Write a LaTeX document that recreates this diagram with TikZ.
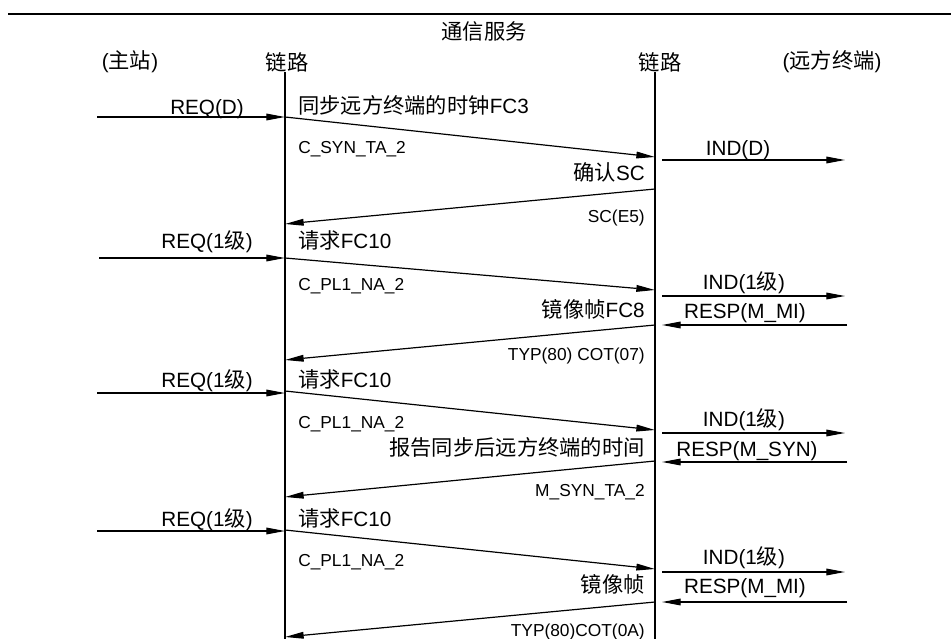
\documentclass[tikz,border=0pt]{standalone}
\usepackage{fontspec}
\setmainfont{Liberation Sans}
\newfontfamily\cjk[Scale=1.03]{Noto Sans CJK SC}
\usetikzlibrary{arrows.meta}
\begin{document}
\begin{tikzpicture}[x=0.75pt,y=-0.75pt,
  lbl/.style={font=\fontsize{15.5}{18}\selectfont, inner sep=0pt},
  sml/.style={font=\fontsize{13}{15}\selectfont, inner sep=0pt},
  msg/.style={line width=0.9pt, -{Triangle[length=14pt,width=5pt]}},
  life/.style={line width=1pt},
  rule/.style={line width=1.2pt}]
\useasboundingbox (0,0) rectangle (951,639);
% header
\coordinate (topL) at (8,14);
\coordinate (topR) at (951,14);
\draw[rule] (topL) -- (topR);
\node[lbl] (svc) at (484,31) {\cjk 通信服务};
\node[lbl] (master) at (130,62) {(\cjk 主站\rm)};
\node[lbl] (link1) at (287,62) {\cjk 链路};
\node[lbl] (link2) at (660,62) {\cjk 链路};
\node[lbl] (remote) at (832,62) {(\cjk 远方终端\rm)};
% lifelines
\coordinate (L0) at (285,72);
\coordinate (L1) at (285,639);
\coordinate (R0) at (655,72);
\coordinate (R1) at (655,639);
\draw[life] (L0) -- (L1);
\draw[life] (R0) -- (R1);

% ---------- row 1 ----------
\coordinate (q1s) at (97,117);  \coordinate (q1e) at (285,117);
\draw[msg] (q1s) -- (q1e);
\node[lbl,anchor=base] (q1l) at (207,114) {REQ(D)};
\coordinate (f1s) at (285,117); \coordinate (f1e) at (655,157);
\draw[msg] (f1s) -- (f1e);
\node[lbl,anchor=base west] (f1t) at (298,113) {\cjk 同步远方终端的时钟\rm FC3};
\node[sml,anchor=base west] (f1c) at (298,153) {C\_SYN\_TA\_2};
\coordinate (i1s) at (662,160); \coordinate (i1e) at (845,160);
\draw[msg] (i1s) -- (i1e);
\node[lbl,anchor=base] (i1l) at (738,155) {IND(D)};
\node[lbl,anchor=base east] (b1t) at (645,180) {\cjk 确认\rm SC};
\coordinate (b1s) at (655,189); \coordinate (b1e) at (285,224);
\draw[msg] (b1s) -- (b1e);
\node[sml,anchor=base east] (b1c) at (645,222) {SC(E5)};

% ---------- row 2 ----------
\coordinate (q2s) at (99,258);  \coordinate (q2e) at (285,258);
\draw[msg] (q2s) -- (q2e);
\node[lbl,anchor=base] (q2l) at (207,248) {REQ(1\cjk 级\rm)};
\coordinate (f2s) at (285,258); \coordinate (f2e) at (655,290);
\draw[msg] (f2s) -- (f2e);
\node[lbl,anchor=base west] (f2t) at (298,248) {\cjk 请求\rm FC10};
\node[sml,anchor=base west] (f2c) at (298,290) {C\_PL1\_NA\_2};
\coordinate (i2s) at (662,296); \coordinate (i2e) at (845,296);
\draw[msg] (i2s) -- (i2e);
\node[lbl,anchor=base] (i2l) at (744,289) {IND(1\cjk 级\rm)};
\node[lbl,anchor=base east] (b2t) at (645,317) {\cjk 镜像帧\rm FC8};
\coordinate (r2s) at (847,325); \coordinate (r2e) at (662,325);
\draw[msg] (r2s) -- (r2e);
\node[lbl,anchor=base] (r2l) at (745,318) {RESP(M\_MI)};
\coordinate (b2s) at (655,325); \coordinate (b2e) at (285,360);
\draw[msg] (b2s) -- (b2e);
\node[sml,anchor=base east] (b2c) at (645,360) {TYP(80) COT(07)};

% ---------- row 3 ----------
\coordinate (q3s) at (97,393);  \coordinate (q3e) at (285,393);
\draw[msg] (q3s) -- (q3e);
\node[lbl,anchor=base] (q3l) at (207,387) {REQ(1\cjk 级\rm)};
\coordinate (f3s) at (285,391); \coordinate (f3e) at (655,430);
\draw[msg] (f3s) -- (f3e);
\node[lbl,anchor=base west] (f3t) at (298,387) {\cjk 请求\rm FC10};
\node[sml,anchor=base west] (f3c) at (298,428) {C\_PL1\_NA\_2};
\coordinate (i3s) at (662,433); \coordinate (i3e) at (845,433);
\draw[msg] (i3s) -- (i3e);
\node[lbl,anchor=base] (i3l) at (744,426) {IND(1\cjk 级\rm)};
\node[lbl,anchor=base east] (b3t) at (645,455) {\cjk 报告同步后远方终端的时间};
\coordinate (r3s) at (847,462); \coordinate (r3e) at (662,462);
\draw[msg] (r3s) -- (r3e);
\node[lbl,anchor=base] (r3l) at (747,456) {RESP(M\_SYN)};
\coordinate (b3s) at (655,461); \coordinate (b3e) at (285,497);
\draw[msg] (b3s) -- (b3e);
\node[sml,anchor=base east] (b3c) at (645,496) {M\_SYN\_TA\_2};

% ---------- row 4 ----------
\coordinate (q4s) at (97,531);  \coordinate (q4e) at (285,531);
\draw[msg] (q4s) -- (q4e);
\node[lbl,anchor=base] (q4l) at (207,526) {REQ(1\cjk 级\rm)};
\coordinate (f4s) at (285,530); \coordinate (f4e) at (655,569);
\draw[msg] (f4s) -- (f4e);
\node[lbl,anchor=base west] (f4t) at (298,526) {\cjk 请求\rm FC10};
\node[sml,anchor=base west] (f4c) at (298,566) {C\_PL1\_NA\_2};
\coordinate (i4s) at (662,572); \coordinate (i4e) at (845,572);
\draw[msg] (i4s) -- (i4e);
\node[lbl,anchor=base] (i4l) at (744,564) {IND(1\cjk 级\rm)};
\node[lbl,anchor=base east] (b4t) at (645,592) {\cjk 镜像帧};
\coordinate (r4s) at (847,602); \coordinate (r4e) at (662,602);
\draw[msg] (r4s) -- (r4e);
\node[lbl,anchor=base] (r4l) at (745,593) {RESP(M\_MI)};
\coordinate (b4s) at (655,602); \coordinate (b4e) at (285,637);
\draw[msg] (b4s) -- (b4e);
\node[sml,anchor=base east] (b4c) at (645,636) {TYP(80)COT(0A)};
\end{tikzpicture}
\end{document}
